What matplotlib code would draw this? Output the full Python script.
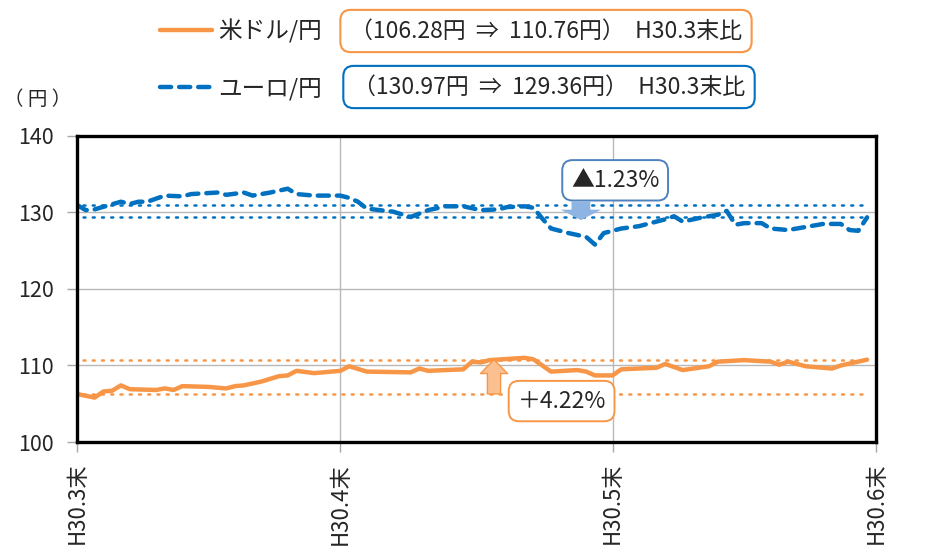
import matplotlib
matplotlib.use("Agg")
import matplotlib.pyplot as plt

plt.rcParams["font.family"] = ["Noto Sans CJK JP", "DejaVu Sans"]

# ── データ (H30.3末からの経過日数, 円) ─────────────────
USD_DAY = [0, 2, 3, 4, 5, 6, 9, 10, 11, 12, 15, 17, 18, 19, 21, 23, 24, 25, 27, 30,
           31, 33, 38, 39, 40, 44, 45, 46, 47, 51, 52, 54, 57, 58, 59, 61, 62, 66, 67,
           69, 72, 73, 76, 79, 80, 81, 83, 86, 87, 90]
USD_JPY = [106.28, 105.8, 106.6, 106.7, 107.4, 106.9, 106.8, 107.0, 106.8, 107.3,
           107.2, 107.0, 107.3, 107.4, 107.9, 108.6, 108.7, 109.3, 109.0, 109.3,
           109.9, 109.2, 109.1, 109.6, 109.3, 109.5, 110.5, 110.4, 110.7, 111.0,
           110.8, 109.2, 109.4, 109.2, 108.7, 108.7, 109.5, 109.7, 110.2, 109.4,
           109.9, 110.5, 110.7, 110.5, 110.1, 110.5, 109.9, 109.6, 110.0, 110.76]

EUR_DAY = [0, 1, 2, 5, 6, 7, 8, 10, 12, 13, 16, 17, 19, 20, 22, 24, 25, 27, 30, 31,
           32, 33, 36, 38, 40, 42, 44, 46, 48, 49, 51, 52, 53, 54, 56, 58, 59, 60, 62,
           64, 67, 68, 69, 71, 73, 74, 75, 76, 78, 79, 81, 83, 85, 87, 88, 89, 90]
EUR_JPY = [130.97, 130.3, 130.4, 131.4, 131.1, 131.4, 131.4, 132.2, 132.1, 132.4,
           132.6, 132.3, 132.6, 132.2, 132.6, 133.1, 132.4, 132.2, 132.2, 131.9,
           131.4, 130.5, 130.1, 129.4, 130.3, 130.8, 130.8, 130.3, 130.4, 130.7,
           130.8, 130.6, 129.2, 127.9, 127.3, 126.8, 125.8, 127.3, 127.9, 128.2,
           129.1, 129.5, 128.8, 129.3, 129.7, 130.2, 128.4, 128.6, 128.6, 127.9,
           127.7, 128.1, 128.5, 128.5, 127.7, 127.6, 129.36]

USD_REF = [106.28, 110.76]
EUR_REF = [130.97, 129.36]
TICK_DAY = [0, 30, 61, 91]
TICK_LABEL = ["H30.3末", "H30.4末", "H30.5末", "H30.6末"]

ORANGE = "#F79646"
BLUE = "#0070C0"
TXT = "#262626"

fig = plt.figure(figsize=(9.51, 5.55), dpi=100)
ax = fig.add_axes([0.081, 0.2036, 0.840, 0.5515])

# ── 基準線 (H30.3末 / 直近) ───────────────────────────
for v in USD_REF:
    ax.plot([0.7, 90], [v, v], color=ORANGE, lw=1.8,
            linestyle=(0, (0.8, 2.9)), dash_capstyle="round")
for v in EUR_REF:
    ax.plot([0.7, 90], [v, v], color=BLUE, lw=1.8,
            linestyle=(0, (0.8, 2.9)), dash_capstyle="round")

# ── 主系列 ─────────────────────────────────────────────
usd_line, = ax.plot(USD_DAY, USD_JPY, color=ORANGE, lw=3.2,
                    solid_joinstyle="round", solid_capstyle="round", zorder=4)
eur_line, = ax.plot(EUR_DAY, EUR_JPY, color=BLUE, lw=3.2,
                    dashes=(2.5, 1.8), dash_capstyle="round", zorder=4)

# ── 変化率の矢印と吹き出し ─────────────────────────────
ax.annotate("", xy=(47.5, USD_REF[1]), xytext=(47.5, USD_REF[0]),
            arrowprops=dict(arrowstyle="simple,head_width=1.95,head_length=1.0,tail_width=0.95",
                            fc="#FAC090", ec=ORANGE, lw=1.0,
                            shrinkA=0, shrinkB=0, mutation_scale=10), zorder=5)
ax.text(55.2, 105.35, "＋4.22%", fontsize=16.5, ha="center", va="center", color=TXT,
        bbox=dict(boxstyle="round,pad=0.38,rounding_size=0.45", fc="white", ec=ORANGE, lw=1.4),
        zorder=6)

ax.annotate("", xy=(57.4, 129.0), xytext=(57.4, 131.4),
            arrowprops=dict(arrowstyle="simple,head_width=2.9,head_length=0.75,tail_width=1.35",
                            fc="#8DB4E2", ec="none",
                            shrinkA=0, shrinkB=0, mutation_scale=10), zorder=5)
ax.text(61.3, 134.2, "▲1.23%", fontsize=16.5, ha="center", va="center", color=TXT,
        bbox=dict(boxstyle="round,pad=0.38,rounding_size=0.45", fc="white", ec="#4F81BD", lw=1.4),
        zorder=6)

# ── 軸 ─────────────────────────────────────────────────
ax.set_xlim(0, 91)
ax.set_ylim(100, 140)
ax.set_yticks([100, 110, 120, 130, 140])
ax.set_xticks(TICK_DAY)
ax.set_xticklabels(TICK_LABEL, rotation=90)
ax.tick_params(axis="both", length=7, width=1, color="#A6A6A6", labelcolor=TXT)
ax.tick_params(axis="y", labelsize=15.5, pad=10)
ax.tick_params(axis="x", labelsize=16, pad=8)
ax.grid(True, color="#B8B8B8", lw=1.0)
ax.set_axisbelow(True)
for sp in ax.spines.values():
    sp.set_linewidth(2.4)
    sp.set_color("black")
    sp.set_zorder(7)

fig.text(38 / 951, 1 - 100 / 555, "（ 円 ）", fontsize=14, ha="center", va="center",
         color=TXT)

# ── 凡例 ───────────────────────────────────────────────
fig.legend([usd_line, eur_line], ["米ドル/円", "ユーロ/円"],
           loc="center left", bbox_to_anchor=(160 / 951, 1 - 60 / 555),
           frameon=False, fontsize=17, handlelength=2.2, handletextpad=0.25,
           borderpad=0, borderaxespad=0, labelspacing=1.45, labelcolor=TXT)

fig.text(546 / 951, 1 - 31 / 555, "（106.28円  ⇒  110.76円）  H30.3末比",
         fontsize=16.5, ha="center", va="center", color=TXT,
         bbox=dict(boxstyle="round,pad=0.42,rounding_size=0.45", fc="white", ec=ORANGE, lw=1.5))
fig.text(549 / 951, 1 - 87 / 555, "（130.97円  ⇒  129.36円）  H30.3末比",
         fontsize=16.5, ha="center", va="center", color=TXT,
         bbox=dict(boxstyle="round,pad=0.42,rounding_size=0.45", fc="white", ec=BLUE, lw=1.5))

fig.savefig("out.png", dpi=100)
plt.close(fig)
